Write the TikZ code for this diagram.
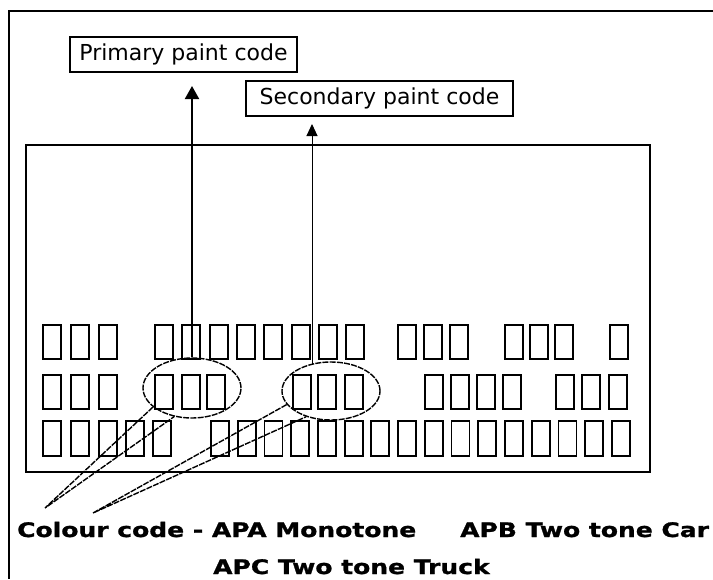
\documentclass[tikz,border=0pt]{standalone}
\usepackage{fontspec}
\setmainfont{DejaVu Sans}
\newfontfamily\botfont[FakeStretch=1.25,FakeBold=1.2]{DejaVu Sans Bold}
\usetikzlibrary{shapes.geometric,arrows.meta}
\begin{document}
\begin{tikzpicture}[x=1pt,y=-1pt,
  tagbox/.style={draw, line width=2pt, font=\fontsize{22}{26}\selectfont, inner sep=0pt, minimum height=35pt},
  cell/.style={draw, line width=1.8pt},
  bubble/.style={draw, line width=1.4pt, dash pattern=on 6pt off 1.2pt},
  bottxt/.style={inner sep=0pt, anchor=base west, font=\botfont\fontsize{20}{24}\selectfont}]
\useasboundingbox (0,0) rectangle (713,579);
% outer frame (cropped)
\draw[line width=1.6pt] (713,11) -- (9,11) -- (9,579);
% label plate
\draw[line width=2.4pt] (26,145) rectangle (650,472);
% code cells
\foreach \x in {43,71,99,155,182,210,237,264,292,319,346,398,424,450,505,530,555,610}
  \draw[cell] (\x,325) rectangle ++(18,34);
\foreach \x in {43,71,99,155,182,207,293,318,345,425,451,477,503,556,582,609}
  \draw[cell] (\x,375) rectangle ++(18,34);
\foreach \x in {43,71,99,126,153}
  \draw[cell] (\x,421) rectangle ++(18,35);
\foreach \i in {0,...,15}
  \draw[cell] ({211+26.73*\i},421) rectangle ++(18,35);
% callout boxes
\node[tagbox, minimum width=227pt] (prim) at (183.5,54.5) {Primary paint code};
\node[tagbox, minimum width=267pt] (sec) at (379.5,98.5) {Secondary paint code};
% bubbles
\node[bubble, ellipse, minimum width=98pt, minimum height=60pt, inner sep=0pt] (e1) at (192,388) {};
\node[bubble, ellipse, minimum width=98pt, minimum height=58pt, inner sep=0pt] (e2) at (331,391) {};
\coordinate (t1) at (45,508);
\coordinate (t2) at (93,513);
\draw[bubble] (e1.206) -- (t1) -- (e1.238);
\draw[bubble] (e2.197) -- (t2) -- (e2.226);
% arrows
\draw[line width=2pt, -{Triangle[width=14pt,length=13pt]}, shorten >=13pt] (e1.north) -- (e1.north |- prim.south);
\coordinate (a2) at (312,364.5);
\draw[line width=1pt, -{Triangle[width=11pt,length=12pt]}, shorten >=7pt] (a2) -- (a2 |- sec.south);
% bottom text
\node[bottxt] (cc) at (17,537) {Colour code - APA Monotone};
\node[bottxt] (apb) at (460,537) {APB Two tone Car};
\node[bottxt] (apc) at (213,574) {APC Two tone Truck};
\end{tikzpicture}
\end{document}
